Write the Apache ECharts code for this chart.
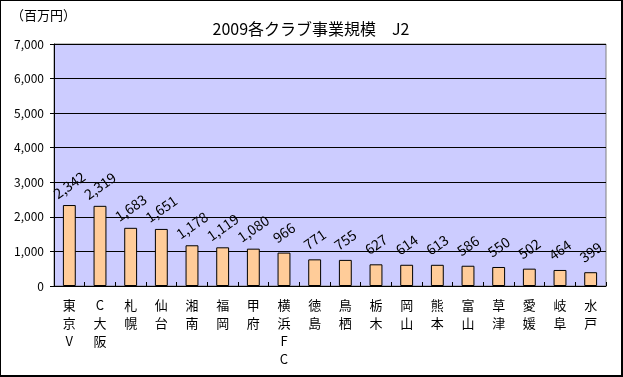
<!DOCTYPE html>
<html>
<head>
<meta charset="utf-8">
<script src="https://cdn.jsdelivr.net/npm/echarts@6/dist/echarts.min.js"></script>
<style>
  html, body { margin: 0; padding: 0; background: #fff; }
  #chart { position: absolute; left: 0; top: 0; width: 620px; height: 374px;
    border: 1px solid #000; border-right-width: 2px; border-bottom-width: 2px; background: #fff; }
</style>
</head>
<body>
<div id="chart"></div>
<script>
// クラブ名
var clubs = ['東京V', 'C大阪', '札幌', '仙台', '湘南', '福岡', '甲府', '横浜FC', '徳島',
  '鳥栖', '栃木', '岡山', '熊本', '富山', '草津', '愛媛', '岐阜', '水戸'];
// 事業規模（百万円）
var revenue = [2342, 2319, 1683, 1651, 1178, 1119, 1080, 966, 771,
  755, 627, 614, 613, 586, 550, 502, 464, 399];

var chart = echarts.init(document.getElementById('chart'));
var font = '"Noto Sans CJK JP", sans-serif';

chart.setOption({
  animation: false,
  textStyle: { fontFamily: font },
  title: {
    text: '2009各クラブ事業規模　J2',
    left: 'center',
    top: 15,
    textStyle: { fontSize: 16, fontWeight: 'normal', color: '#000', fontFamily: font }
  },
  graphic: [{
    type: 'text',
    left: 10,
    top: 8,
    style: { text: '（百万円）', fontSize: 13, fill: '#000', fontFamily: font }
  }],
  grid: {
    left: 53,
    right: 15,
    top: 43,
    bottom: 89,
    show: true,
    backgroundColor: '#CCCCFF',
    borderColor: '#808080',
    borderWidth: 1
  },
  xAxis: {
    type: 'category',
    data: clubs,
    axisLine: { lineStyle: { color: '#000', width: 1 } },
    axisTick: { show: true, inside: true, length: 4, lineStyle: { color: '#000' } },
    axisLabel: {
      interval: 0,
      color: '#000',
      fontSize: 13,
      lineHeight: 18,
      margin: 10,
      fontFamily: font,
      formatter: function (v) { return v.split('').join('\n'); }
    }
  },
  yAxis: {
    type: 'value',
    min: 0,
    max: 7000,
    interval: 1000,
    axisLine: { show: true, lineStyle: { color: '#000', width: 1 } },
    axisTick: { show: true, length: 4, lineStyle: { color: '#000' } },
    splitLine: { lineStyle: { color: '#000', width: 1 } },
    axisLabel: {
      color: '#000',
      fontSize: 12,
      margin: 10,
      fontFamily: font,
      formatter: function (v) { return v.toLocaleString('en-US'); }
    }
  },
  series: [{
    type: 'bar',
    data: revenue,
    barWidth: '42%',
    itemStyle: { color: '#FFCC99', borderColor: '#000', borderWidth: 1 },
    label: {
      show: true,
      position: 'top',
      rotate: 35,
      align: 'center',
      verticalAlign: 'middle',
      distance: 20,
      color: '#000',
      fontSize: 14,
      fontFamily: font,
      formatter: function (p) { return p.value.toLocaleString('en-US'); }
    }
  }]
});
</script>
</body>
</html>
